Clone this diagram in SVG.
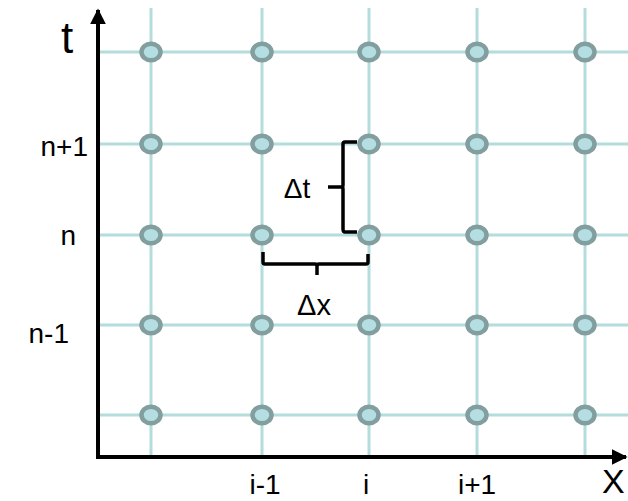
<svg xmlns="http://www.w3.org/2000/svg" width="628" height="501" viewBox="0 0 628 501">
<style>
.grid{stroke:#b3dcdc;stroke-width:3;fill:none}
.node{fill:#b4dee2;stroke:#829e9e;stroke-width:4.5}
.axis{stroke:#000;stroke-width:4;fill:none}
.br{stroke:#000;stroke-width:3.5;fill:none;stroke-linejoin:round;stroke-linecap:butt}
text{font-family:"Liberation Sans",Arial,sans-serif;fill:#000}
.lb{font-size:28px}
</style>
<defs>
<marker id="ah" viewBox="0 0 10 10" refX="9" refY="5" markerWidth="4" markerHeight="4" markerUnits="strokeWidth" orient="auto">
<path d="M0,0 L10,5 L0,10 z" fill="#000"/>
</marker>
</defs>
<g id="grid">
<path class="grid" d="M151,8V457 M262,8V457 M369,8V457 M477,8V457 M585,8V457"/>
<path class="grid" d="M99,52H628 M99,144H628 M99,235H628 M99,325H628 M99,415H628"/>
</g>
<g id="axes">
<path class="axis" d="M98,459V10" marker-end="url(#ah)"/>
<path class="axis" d="M96,457H626" marker-end="url(#ah)"/>
</g>
<g id="nodes">
<g id="r0"><ellipse class="node" cx="151" cy="52" rx="9.5" ry="8.3"/><ellipse class="node" cx="262" cy="52" rx="9.5" ry="8.3"/><ellipse class="node" cx="369" cy="52" rx="9.5" ry="8.3"/><ellipse class="node" cx="477" cy="52" rx="9.5" ry="8.3"/><ellipse class="node" cx="585" cy="52" rx="9.5" ry="8.3"/></g>
<g id="r1"><ellipse class="node" cx="151" cy="144" rx="9.5" ry="8.3"/><ellipse class="node" cx="262" cy="144" rx="9.5" ry="8.3"/><ellipse class="node" cx="369" cy="144" rx="9.5" ry="8.3"/><ellipse class="node" cx="477" cy="144" rx="9.5" ry="8.3"/><ellipse class="node" cx="585" cy="144" rx="9.5" ry="8.3"/></g>
<g id="r2"><ellipse class="node" cx="151" cy="235" rx="9.5" ry="8.3"/><ellipse class="node" cx="262" cy="235" rx="9.5" ry="8.3"/><ellipse class="node" cx="369" cy="235" rx="9.5" ry="8.3"/><ellipse class="node" cx="477" cy="235" rx="9.5" ry="8.3"/><ellipse class="node" cx="585" cy="235" rx="9.5" ry="8.3"/></g>
<g id="r3"><ellipse class="node" cx="151" cy="325" rx="9.5" ry="8.3"/><ellipse class="node" cx="262" cy="325" rx="9.5" ry="8.3"/><ellipse class="node" cx="369" cy="325" rx="9.5" ry="8.3"/><ellipse class="node" cx="477" cy="325" rx="9.5" ry="8.3"/><ellipse class="node" cx="585" cy="325" rx="9.5" ry="8.3"/></g>
<g id="r4"><ellipse class="node" cx="151" cy="415" rx="9.5" ry="8.3"/><ellipse class="node" cx="262" cy="415" rx="9.5" ry="8.3"/><ellipse class="node" cx="369" cy="415" rx="9.5" ry="8.3"/><ellipse class="node" cx="477" cy="415" rx="9.5" ry="8.3"/><ellipse class="node" cx="585" cy="415" rx="9.5" ry="8.3"/></g>
</g>
<g id="braces">
<path class="br" d="M357,142H345Q343,142 343,144V185Q343,187 341,187H328 M341,187Q343,187 343,189V229Q343,232 345,232H357"/>
<path class="br" d="M263,252V262Q263,264 265,264H315Q317,264 317,266V275 M317,266Q317,264 319,264H366Q368,264 368,262V254"/>
</g>
<g id="labels">
<text x="67" y="53" font-size="44" text-anchor="middle">t</text>
<text x="602" y="493" font-size="34">X</text>
<text class="lb" x="88" y="156" text-anchor="end">n+1</text>
<text class="lb" x="76" y="245" text-anchor="end">n</text>
<text class="lb" x="69" y="343" text-anchor="end">n-1</text>
<text class="lb" x="265" y="494" text-anchor="middle">i-1</text>
<text class="lb" x="366" y="494" text-anchor="middle">i</text>
<text class="lb" x="477" y="494" text-anchor="middle">i+1</text>
<text x="297" y="198" font-size="28" text-anchor="middle">Δt</text>
<text x="314" y="315" font-size="29" text-anchor="middle">Δx</text>
</g>
</svg>
